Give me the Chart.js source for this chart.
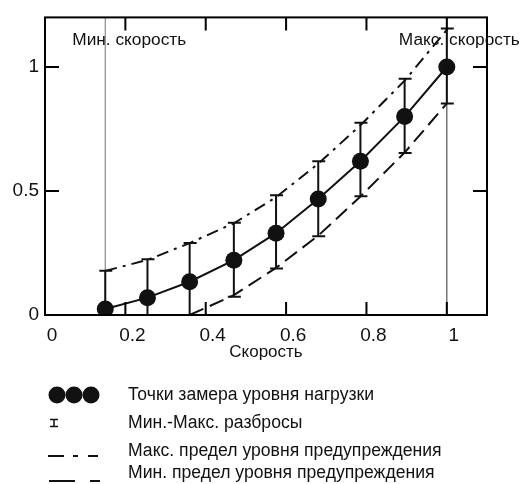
<!DOCTYPE html>
<html>
<head>
<meta charset="utf-8">
<script src="https://cdn.jsdelivr.net/npm/chart.js@4.4.0/dist/chart.umd.min.js"></script>
<style>
  body { margin: 0; background: #fff; }
  #wrap { width: 522px; height: 484px; }
</style>
</head>
<body>
<div id="wrap"><canvas id="chart-load" width="522" height="484"></canvas></div>
<script>
// values
const speed    = [0.15, 0.255, 0.36, 0.47, 0.575, 0.68, 0.785, 0.895, 1.0];
const load     = [0.024, 0.07, 0.134, 0.221, 0.33, 0.468, 0.62, 0.80, 1.0];
const loadMax  = [0.178, 0.225, 0.29, 0.372, 0.483, 0.62, 0.775, 0.953, 1.155];
const loadMin  = [0, 0, 0, 0.074, 0.188, 0.318, 0.479, 0.653, 0.853];
const warnHigh = [0.178, 0.222, 0.29, 0.37, 0.475, 0.61, 0.765, 0.945, 1.15];
const warnLowX = [0.36, 0.47, 0.575, 0.68, 0.785, 0.895, 1.0];
const warnLowY = [0, 0.08, 0.19, 0.32, 0.478, 0.655, 0.853];
const speedMin = 0.15, speedMax = 1.0;
const xTicks = [0, 0.2, 0.4, 0.6, 0.8, 1];
const yTicks = [0, 0.5, 1];
const legendLabels = [
	'Точки замера уровня нагрузки',
	'Мин.-Макс. разбросы',
	'Макс. предел уровня предупреждения',
	'Мин. предел уровня предупреждения'
];

const FONT = '"Liberation Sans", Arial, sans-serif';
const pts = (xs, ys) => xs.map((x, i) => ({x: x, y: ys[i]}));

// frame, inward ticks, error bars, labels and legend
const extras = {
	id: 'extras',
	afterDatasetsDraw(chart) {
		const ctx = chart.ctx, a = chart.chartArea;
		const xs = chart.scales.x, ys = chart.scales.y;
		ctx.save();
		ctx.strokeStyle = '#111';
		ctx.lineWidth = 2;
		// error bars
		speed.forEach((s, i) => {
			const px = xs.getPixelForValue(s);
			const top = ys.getPixelForValue(loadMax[i]);
			const bot = ys.getPixelForValue(loadMin[i]);
			ctx.beginPath();
			ctx.moveTo(px, top); ctx.lineTo(px, bot);
			ctx.moveTo(px - 6, top); ctx.lineTo(px + 7, top);
			ctx.moveTo(px - 6, bot); ctx.lineTo(px + 7, bot);
			ctx.stroke();
		});
		// frame
		ctx.strokeStyle = '#000';
		ctx.strokeRect(a.left, a.top, a.right - a.left, a.bottom - a.top);
		// inward ticks
		ctx.beginPath();
		xTicks.forEach(v => {
			if (v === 0) return;
			const px = xs.getPixelForValue(v);
			ctx.moveTo(px, a.bottom); ctx.lineTo(px, a.bottom - 13);
			ctx.moveTo(px, a.top); ctx.lineTo(px, a.top + 13);
		});
		yTicks.forEach(v => {
			if (v === 0) return;
			const py = ys.getPixelForValue(v);
			ctx.moveTo(a.left, py); ctx.lineTo(a.left + 14, py);
			ctx.moveTo(a.right, py); ctx.lineTo(a.right - 14, py);
		});
		ctx.stroke();
		// speed limit captions
		ctx.fillStyle = '#111';
		ctx.font = '17.3px ' + FONT;
		ctx.textBaseline = 'middle';
		ctx.textAlign = 'left';
		ctx.fillText('Мин. скорость', xs.getPixelForValue(speedMin) - 33, a.top + 23);
		ctx.fillText('Макс. скорость', xs.getPixelForValue(speedMax) - 48, a.top + 23);
		ctx.restore();
	},
	afterDraw(chart) {
		const ctx = chart.ctx;
		const rows = [395, 423, 451, 473];
		const tx = 128;
		ctx.save();
		ctx.fillStyle = '#111';
		ctx.strokeStyle = '#111';
		ctx.font = '17.6px ' + FONT;
		ctx.textBaseline = 'middle';
		legendLabels.forEach((t, i) => ctx.fillText(t, tx, rows[i]));
		// symbols
		[57, 74, 91].forEach(cx => {
			ctx.beginPath();
			ctx.arc(cx, rows[0], 8.5, 0, Math.PI * 2);
			ctx.fill();
		});
		ctx.lineWidth = 1.5;
		ctx.beginPath();
		ctx.moveTo(50, 419.5); ctx.lineTo(58, 419.5);
		ctx.moveTo(54, 419.5); ctx.lineTo(54, 426.5);
		ctx.moveTo(50, 426.5); ctx.lineTo(58, 426.5);
		ctx.stroke();
		ctx.lineWidth = 2;
		ctx.beginPath();
		ctx.moveTo(48, 456); ctx.lineTo(64, 456);
		ctx.moveTo(73, 456); ctx.lineTo(78, 456);
		ctx.moveTo(88, 456); ctx.lineTo(98, 456);
		ctx.moveTo(49, 481); ctx.lineTo(75, 481);
		ctx.moveTo(90, 481); ctx.lineTo(100, 481);
		ctx.stroke();
		ctx.restore();
	}
};

const config = {
	type: 'line',
	data: {
		datasets: [
			{
				label: 'load',
				data: pts(speed, load),
				borderColor: '#111',
				backgroundColor: '#111',
				borderWidth: 2,
				pointRadius: 8.5,
				pointBorderWidth: 0,
				order: 0
			},
			{
				label: 'warnHigh',
				data: pts(speed, warnHigh),
				borderColor: '#111',
				borderWidth: 2,
				borderDash: [12, 6, 3, 6],
				pointRadius: 0,
				order: 1
			},
			{
				label: 'warnLow',
				data: pts(warnLowX, warnLowY),
				borderColor: '#111',
				borderWidth: 2,
				borderDash: [15, 7],
				pointRadius: 0,
				order: 1
			},
			{
				label: 'vmin',
				data: pts([speedMin, speedMin], [0, 1.2]),
				borderColor: '#8a8a8a',
				borderWidth: 1.2,
				pointRadius: 0,
				order: 2
			},
			{
				label: 'vmax',
				data: pts([speedMax, speedMax], [0, 1.2]),
				borderColor: '#555',
				borderWidth: 1.2,
				pointRadius: 0,
				order: 2
			}
		]
	},
	options: {
		responsive: false,
		animation: false,
		layout: { padding: { left: 0, top: 16, right: 35, bottom: 121 } },
		plugins: {
			legend: { display: false },
			tooltip: { enabled: false }
		},
		scales: {
			x: {
				type: 'linear',
				min: 0,
				max: 1.1,
				afterBuildTicks: s => { s.ticks = xTicks.map(v => ({value: v})); },
				afterFit: s => { s.height = 48; },
				grid: { display: false, drawTicks: false },
				border: { display: false },
				ticks: {
					color: '#111',
					font: { family: FONT, size: 19 },
					padding: 9,
					labelOffset: 7,
					maxRotation: 0,
					callback: v => String(v)
				},
				title: {
					display: true,
					text: 'Скорость',
					color: '#111',
					font: { family: FONT, size: 17 },
					padding: { top: 0, bottom: 0 }
				}
			},
			y: {
				type: 'linear',
				min: 0,
				max: 1.2,
				afterBuildTicks: s => { s.ticks = yTicks.map(v => ({value: v})); },
				afterFit: s => { s.width = 45; },
				grid: { display: false, drawTicks: false },
				border: { display: false },
				ticks: {
					color: '#111',
					font: { family: FONT, size: 19 },
					padding: 6,
					callback: v => String(v)
				}
			}
		}
	},
	plugins: [extras]
};

window.chartLoad = new Chart(document.getElementById('chart-load').getContext('2d'), config);
</script>
</body>
</html>
